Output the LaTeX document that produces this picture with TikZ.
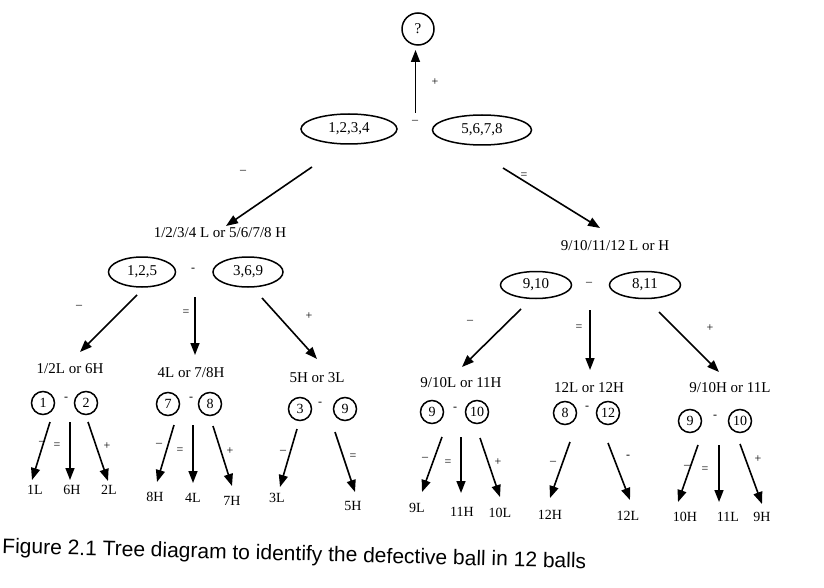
\documentclass[tikz,border=0pt]{standalone}
\usepackage{fontspec}
\setmainfont{Liberation Serif}
\newfontfamily\capfont{Liberation Sans}
\usetikzlibrary{shapes.geometric,arrows.meta}
\tikzset{
  lbl/.style={inner sep=0pt,font=\fontsize{15}{17}\selectfont},
  leaf/.style={inner sep=0pt,font=\fontsize{14}{16}\selectfont},
  sgn/.style={inner sep=0pt,font=\fontsize{12}{13}\selectfont},
  oval/.style={draw,ellipse,line width=1.5pt,inner sep=0pt,minimum height=30pt,font=\fontsize{15}{17}\selectfont},
  ball/.style={draw,circle,line width=1.5pt,inner sep=0pt,minimum size=23pt,font=\fontsize{14}{16}\selectfont},
  arr/.style={line width=1.6pt,-{Triangle[length=12pt,width=9pt]}},
}
\begin{document}
\begin{tikzpicture}[x=1pt,y=-1pt]
\useasboundingbox (0,0) rectangle (824,588);
% top
\node[draw,circle,line width=1.5pt,minimum size=32pt,inner sep=0pt,font=\fontsize{15}{17}\selectfont] (q) at (418,29) {?};
\node[oval,minimum width=96pt] (e1234) at (349,129) {1,2,3,4};
\node[oval,minimum width=99pt] (e5678) at (482,130) {5,6,7,8};
\node[sgn] (s0) at (415,122) {–};
\coordinate (a0s) at (415.5,113);
\coordinate (a0e) at (415.5,50);
\draw[arr] (a0s) -- (a0e);
\node[sgn] (p0) at (435,82) {+};
% level 1 arrows
\coordinate (aLs) at (312,167);
\coordinate (aLe) at (226,226);
\coordinate (aRs) at (503,168);
\coordinate (aRe) at (600,228);
\draw[arr] (aLs) -- (aLe);
\draw[arr] (aRs) -- (aRe);
\node[sgn] (sL) at (243,172) {–};
\node[sgn] (sR) at (524,176) {=};
% left level 2
\node[lbl] (tL) at (220,233) {1/2/3/4 L or 5/6/7/8 H};
\node[oval,minimum width=67pt,minimum height=30pt] (e125) at (142,272) {1,2,5};
\node[oval,minimum width=70pt,minimum height=30pt] (e369) at (248,272) {3,6,9};
\node[sgn] (sLm) at (193,270) {-};
\coordinate (l1s) at (137,295); \coordinate (l1e) at (80,352);
\coordinate (l2s) at (195,297); \coordinate (l2e) at (195,355);
\coordinate (l3s) at (262,298); \coordinate (l3e) at (317,359);
\draw[arr] (l1s) -- (l1e);
\draw[arr] (l2s) -- (l2e);
\draw[arr] (l3s) -- (l3e);
\node[sgn] at (79,307) {–};
\node[sgn] at (186,313) {=};
\node[sgn] at (309,316) {+};
% right level 2
\node[lbl] (tR) at (615,246) {9/10/11/12 L or H};
\node[oval,minimum width=71pt,minimum height=27pt] (e910) at (536,285) {9,10};
\node[oval,minimum width=71pt,minimum height=27pt] (e811) at (645,285) {8,11};
\node[sgn] (sRm) at (589,284) {–};
\coordinate (r1s) at (521,309); \coordinate (r1e) at (462,367);
\coordinate (r2s) at (590,310); \coordinate (r2e) at (590,370);
\coordinate (r3s) at (659,312); \coordinate (r3e) at (719,372);
\draw[arr] (r1s) -- (r1e);
\draw[arr] (r2s) -- (r2e);
\draw[arr] (r3s) -- (r3e);
\node[sgn] at (470,322) {–};
\node[sgn] at (579,328) {=};
\node[sgn] at (710,328) {+};
% level 3 labels
\node[lbl] (t1) at (70,369) {1/2L or 6H};
\node[lbl] (t2) at (191,373) {4L or 7/8H};
\node[lbl] (t3) at (317,378) {5H or 3L};
\node[lbl] (t4) at (461,383) {9/10L or 11H};
\node[lbl] (t5) at (589,388) {12L or 12H};
\node[lbl] (t6) at (730,388) {9/10H or 11L};
% balls
\node[ball] (b1) at (43,403) {1};
\node[ball] (b2) at (86,403) {2};
\node[sgn] at (66,399) {-};
\node[ball] (b7) at (168,404) {7};
\node[ball] (b8) at (210,404) {8};
\node[sgn] at (191,399) {-};
\node[ball] (b3) at (300,409) {3};
\node[ball] (b9) at (345,409) {9};
\node[sgn] at (320,404) {-};
\node[ball] (c9) at (432,412) {9};
\node[ball] (c10) at (477,412) {10};
\node[sgn] at (455,409) {-};
\node[ball] (c8) at (565,413) {8};
\node[ball] (c12) at (608,413) {12};
\node[sgn] at (587,408) {-};
\node[ball] (d9) at (690,421) {9};
\node[ball] (d10) at (740,421) {10};
\node[sgn] at (715,417) {-};
% group 1
\coordinate (g1as) at (50,422); \coordinate (g1ae) at (32,480);
\coordinate (g1bs) at (70,422); \coordinate (g1be) at (70,480);
\coordinate (g1cs) at (88,422); \coordinate (g1ce) at (108,481);
\draw[arr] (g1as) -- (g1ae);
\draw[arr] (g1bs) -- (g1be);
\draw[arr] (g1cs) -- (g1ce);
\node[sgn] at (42,443) {–};
\node[sgn] at (57,446) {=};
\node[sgn] at (107,446) {+};
\node[leaf] (n1L) at (35,490) {1L};
\node[leaf] (n6H) at (72,490) {6H};
\node[leaf] (n2L) at (109,490) {2L};
% group 2
\coordinate (g2as) at (174,425); \coordinate (g2ae) at (157,482);
\coordinate (g2bs) at (193,425); \coordinate (g2be) at (193,483);
\coordinate (g2cs) at (213,426); \coordinate (g2ce) at (232,486);
\draw[arr] (g2as) -- (g2ae);
\draw[arr] (g2bs) -- (g2be);
\draw[arr] (g2cs) -- (g2ce);
\node[sgn] at (159,445) {–};
\node[sgn] at (180,451) {=};
\node[sgn] at (230,451) {+};
\node[leaf] (n8H) at (155,497) {8H};
\node[leaf] (n4L) at (193,498) {4L};
\node[leaf] (n7H) at (232,501) {7H};
% group 3
\coordinate (g3as) at (297,429); \coordinate (g3ae) at (280,487);
\coordinate (g3cs) at (335,432); \coordinate (g3ce) at (355,492);
\draw[arr] (g3as) -- (g3ae);
\draw[arr] (g3cs) -- (g3ce);
\node[sgn] at (283,452) {–};
\node[sgn] at (353,457) {=};
\node[leaf] (n3L) at (277,498) {3L};
\node[leaf] (n5H) at (353,506) {5H};
% group 4
\coordinate (g4as) at (442,437); \coordinate (g4ae) at (422,492);
\coordinate (g4bs) at (461,437); \coordinate (g4be) at (461,493);
\coordinate (g4cs) at (480,438); \coordinate (g4ce) at (500,497);
\draw[arr] (g4as) -- (g4ae);
\draw[arr] (g4bs) -- (g4be);
\draw[arr] (g4cs) -- (g4ce);
\node[sgn] at (425,459) {–};
\node[sgn] at (448,463) {=};
\node[sgn] at (498,462) {+};
\node[leaf] (n9L) at (417,508) {9L};
\node[leaf] (n11H) at (462,512) {11H};
\node[leaf] (n10L) at (500,513) {10L};
% group 5
\coordinate (g5as) at (570,442); \coordinate (g5ae) at (550,498);
\coordinate (g5cs) at (608,443); \coordinate (g5ce) at (630,500);
\draw[arr] (g5as) -- (g5ae);
\draw[arr] (g5cs) -- (g5ce);
\node[sgn] at (553,463) {–};
\node[sgn] at (628,457) {-};
\node[leaf] (n12H) at (550,515) {12H};
\node[leaf] (n12L) at (628,516) {12L};
% group 6
\coordinate (g6as) at (698,445); \coordinate (g6ae) at (678,502);
\coordinate (g6bs) at (719,445); \coordinate (g6be) at (719,502);
\coordinate (g6cs) at (740,444); \coordinate (g6ce) at (762,504);
\draw[arr] (g6as) -- (g6ae);
\draw[arr] (g6bs) -- (g6be);
\draw[arr] (g6cs) -- (g6ce);
\node[sgn] at (687,467) {–};
\node[sgn] at (705,470) {=};
\node[sgn] at (758,459) {+};
\node[leaf] (n10H) at (685,517) {10H};
\node[leaf] (n11L) at (728,517) {11L};
\node[leaf] (n9H) at (762,517) {9H};
% caption
\node[inner sep=0pt,anchor=base west,rotate=-1.5,font=\capfont\fontsize{21}{24}\selectfont] (cap) at (2,553) {Figure 2.1 Tree diagram to identify the defective ball in 12 balls};
\end{tikzpicture}
\end{document}
